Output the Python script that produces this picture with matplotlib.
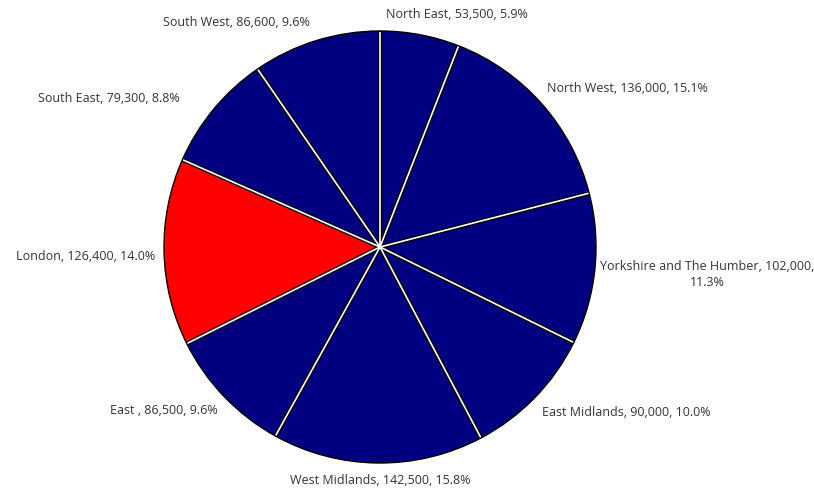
import matplotlib
matplotlib.use("Agg")
import matplotlib.pyplot as plt
import numpy as np

regions = ["North East", "North West", "Yorkshire and The Humber", "East Midlands",
           "West Midlands", "East ", "London", "South East", "South West"]
values = [53500, 136000, 102000, 90000, 142500, 86500, 126400, 79300, 86600]
percents = [5.9, 15.1, 11.3, 10.0, 15.8, 9.6, 14.0, 8.8, 9.6]
highlight = "London"

colors = ["#FF0000" if r == highlight else "#000080" for r in regions]

W, H = 814, 491
cx, cy, R = 380, 247, 216

fig = plt.figure(figsize=(W / 100, H / 100), dpi=100)
ax = fig.add_axes([0, 0, 1, 1])

wedges, _ = ax.pie(values, colors=colors, startangle=90, counterclock=False,
                   radius=1, center=(0, 0), frame=True,
                   wedgeprops=dict(edgecolor="black", linewidth=1.0))
ax.set_xlim(-cx / R, (W - cx) / R)
ax.set_ylim(-(H - cy) / R, cy / R)
ax.set_aspect("auto")
ax.axis("off")

# separators along radial edges: black outline with white core
frac = np.cumsum([0] + values) / sum(values)
for f in frac[:-1]:
    ang = np.deg2rad(90 - 360 * f)
    xs = [0, 0.997 * np.cos(ang)]
    ys = [0, 0.997 * np.sin(ang)]
    ax.plot(xs, ys, color="black", lw=3.0, solid_capstyle="butt", zorder=5)
    ax.plot(xs, ys, color="white", lw=1.2, solid_capstyle="butt", zorder=6)

# label layout (pixel anchors, alignment)
layout = [
    (386, 15, "left"),
    (547, 88, "left"),
    (707, 274, "center"),
    (542, 413, "left"),
    (380, 480, "center"),
    (218, 411, "right"),
    (155, 257, "right"),
    (180, 98, "right"),
    (310, 23, "right"),
]

def fmt(v):
    return f"{v:,}"

for r, v, p, (px, py, ha) in zip(regions, values, percents, layout):
    if r.startswith("Yorkshire"):
        txt = f"{r}, {fmt(v)},\n{p:.1f}%"
    else:
        txt = f"{r}, {fmt(v)}, {p:.1f}%"
    ax.text((px - cx) / R, (cy - py) / R, txt, ha=ha, va="center",
            multialignment="center", fontsize=9, color="#333333",
            family=["Open Sans", "DejaVu Sans"], linespacing=1.3, zorder=10)

fig.savefig("out.png", dpi=100)
